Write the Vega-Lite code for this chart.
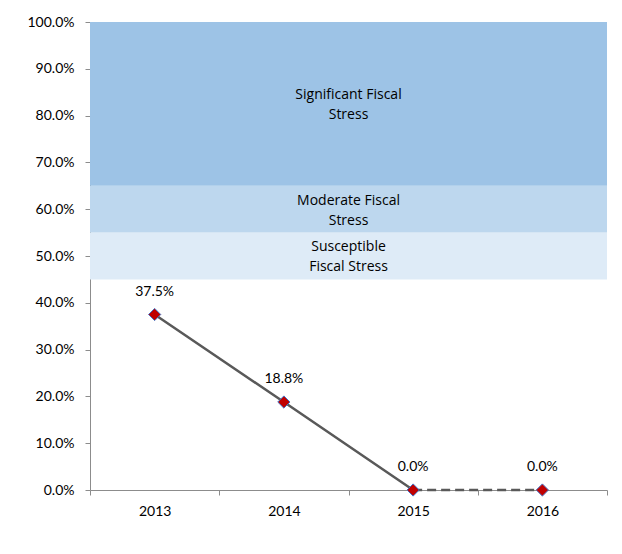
{
  "$schema": "https://vega.github.io/schema/vega-lite/v6.json",
  "width": 517,
  "height": 468,
  "autosize": {"type": "none"},
  "padding": {"left": 90, "top": 22, "right": 15, "bottom": 64},
  "background": "white",
  "config": {
    "view": {"stroke": null},
    "font": "Lato",
    "axis": {"labelFont": "Lato", "labelFontSize": 14, "labelColor": "#000000", "domainColor": "#8c8c8c", "tickColor": "#8c8c8c", "grid": false, "title": null}
  },
  "datasets": {
    "bands": [
      {"zone": "Susceptible", "lo": 0.45, "hi": 0.55},
      {"zone": "Moderate", "lo": 0.55, "hi": 0.65},
      {"zone": "Significant", "lo": 0.65, "hi": 1.0}
    ],
    "bandLabels": [
      {"label": ["Significant Fiscal", "Stress"], "pos": 0.843},
      {"label": ["Moderate Fiscal", "Stress"], "pos": 0.617},
      {"label": ["Susceptible", "Fiscal Stress"], "pos": 0.519}
    ],
    "solid": [
      {"year": 2013, "value": 0.375},
      {"year": 2014, "value": 0.188},
      {"year": 2015, "value": 0.0}
    ],
    "dashed": [
      {"year": 2015, "value": 0.0},
      {"year": 2016, "value": 0.0}
    ],
    "points": [
      {"year": 2013, "value": 0.375},
      {"year": 2014, "value": 0.188},
      {"year": 2015, "value": 0.0},
      {"year": 2016, "value": 0.0}
    ]
  },
  "layer": [
    {
      "data": {"name": "bands"},
      "mark": {"type": "rect"},
      "encoding": {
        "y": {"field": "lo", "type": "quantitative", "scale": {"domain": [0, 1]},
          "axis": {"values": [0, 0.1, 0.2, 0.3, 0.4, 0.5, 0.6, 0.7, 0.8, 0.9, 1.0], "format": ".1%", "tickSize": 5, "labelPadding": 11, "domain": true}},
        "y2": {"field": "hi"},
        "color": {"field": "zone", "type": "nominal", "legend": null,
          "scale": {"domain": ["Susceptible", "Moderate", "Significant"], "range": ["#DEEBF7", "#BDD7EE", "#9DC3E6"]}}
      }
    },
    {
      "data": {"name": "bandLabels"},
      "mark": {"type": "text", "font": "Open Sans", "fontSize": 14, "lineHeight": 20, "baseline": "middle", "align": "center", "color": "#000000"},
      "encoding": {
        "y": {"field": "pos", "type": "quantitative"},
        "text": {"field": "label"}
      }
    },
    {
      "data": {"name": "solid"},
      "mark": {"type": "line", "color": "#595959", "strokeWidth": 2.5},
      "encoding": {
        "x": {"field": "year", "type": "quantitative", "scale": {"domain": [2012.5, 2016.5], "nice": false, "zero": false},
          "axis": {"values": [2012.5, 2013, 2013.5, 2014, 2014.5, 2015, 2015.5, 2016, 2016.5],
            "labelExpr": "datum.value % 1 == 0 ? toString(datum.value) : ''",
            "tickOpacity": {"condition": {"test": "datum.value % 1 != 0", "value": 1}, "value": 0},
            "tickSize": 5, "labelPadding": 9, "labelFlush": false}},
        "y": {"field": "value", "type": "quantitative"}
      }
    },
    {
      "data": {"name": "dashed"},
      "mark": {"type": "line", "color": "#595959", "strokeWidth": 2.5, "strokeDash": [9, 5]},
      "encoding": {
        "x": {"field": "year", "type": "quantitative"},
        "y": {"field": "value", "type": "quantitative"}
      }
    },
    {
      "data": {"name": "points"},
      "mark": {"type": "point", "shape": "diamond", "filled": true, "fill": "#C00000", "stroke": "#4472C4", "strokeWidth": 1, "size": 150, "opacity": 1},
      "encoding": {
        "x": {"field": "year", "type": "quantitative"},
        "y": {"field": "value", "type": "quantitative"}
      }
    },
    {
      "data": {"name": "points"},
      "mark": {"type": "text", "fontSize": 14, "dy": -23, "baseline": "middle", "align": "center", "color": "#000000"},
      "encoding": {
        "x": {"field": "year", "type": "quantitative"},
        "y": {"field": "value", "type": "quantitative"},
        "text": {"field": "value", "type": "quantitative", "format": ".1%"}
      }
    }
  ]
}
